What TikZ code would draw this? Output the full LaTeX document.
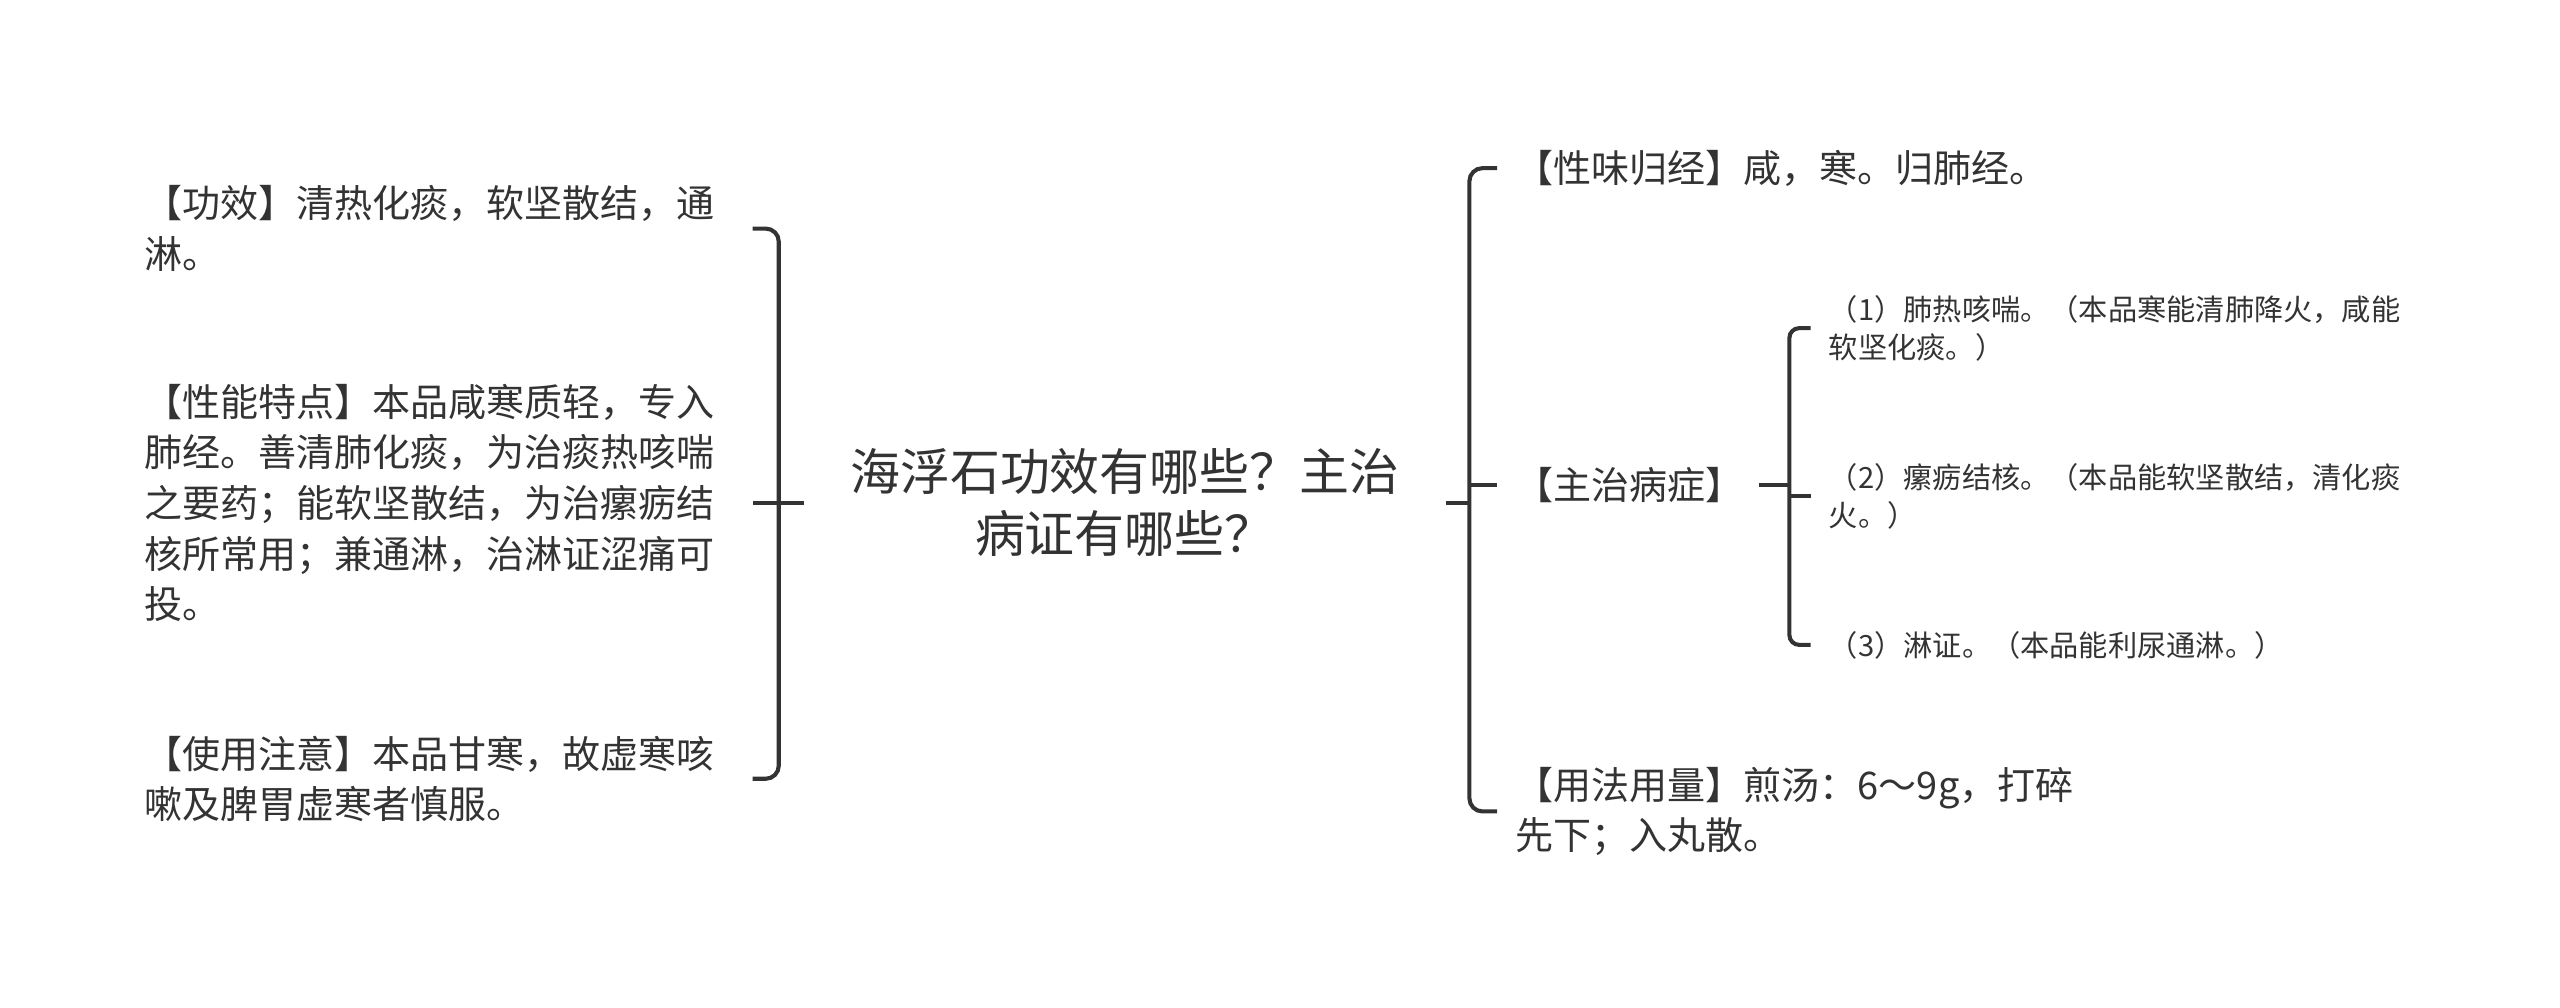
\documentclass[tikz,border=0pt]{standalone}
\usepackage{fontspec}
\setmainfont{Noto Sans CJK SC}
\usepackage{tikz}

\definecolor{ink}{HTML}{333333}

\tikzset{
  leaf/.style={anchor=west, inner sep=0pt, align=left, text=ink,
               font=\fontsize{23.3pt}{31pt}\selectfont},
  subleaf/.style={anchor=west, inner sep=0pt, align=left, text=ink,
               font=\fontsize{17.9pt}{23pt}\selectfont},
  topic/.style={inner xsep=28pt, inner ysep=0pt, align=center, text=ink,
               font=\fontsize{30.6pt}{38pt}\selectfont},
  brace/.style={draw=ink, line width=2.5pt, rounded corners=8pt},
  link/.style={draw=ink, line width=2.5pt}
}

\begin{document}
\begin{tikzpicture}[x=1pt, y=-1pt]
        \useasboundingbox [fill=white] (0,0) rectangle (1568,617);            %

        \node [topic] (root) at (689,308)  {海浮石功效有哪些？主治\\病证有哪些？}; %

        \node [leaf] (gx) at (88,140)      {【功效】清热化痰，软坚散结，通\\淋。};  %
        \node [leaf] (xn) at (88,308)      {【性能特点】本品咸寒质轻，专入\\肺经。善清肺化痰，为治痰热咳喘\\之要药；能软坚散结，为治瘰疬结\\核所常用；兼通淋，治淋证涩痛可\\投。};
        \node [leaf] (zy) at (88,477)      {【使用注意】本品甘寒，故虚寒咳\\嗽及脾胃虚寒者慎服。};

        \node [leaf] (xw) at (928,103)     {【性味归经】咸，寒。归肺经。};         %
        \node [leaf] (zz) at (928,297)     {【主治病症】};                       %
        \node [leaf] (yf) at (928,497)     {【用法用量】煎汤：6～9g，打碎\\先下；入丸散。};

        \node [subleaf] (s1) at (1120,201) {（1）肺热咳喘。（本品寒能清肺降火，咸能\\软坚化痰。）};
        \node [subleaf] (s2) at (1120,304) {（2）瘰疬结核。（本品能软坚散结，清化痰\\火。）};
        \node [subleaf] (s3) at (1120,395) {（3）淋证。（本品能利尿通淋。）};    %

        % bracket, left
        \coordinate (lh) at (461,0);                                          %
        \coordinate (lv) at (477,0);                                          %
        \draw [brace] (gx.east -| lh) -- (gx.east -| lv) -- (zy.east -| lv) -- (zy.east -| lh);
        \draw [link]  (root.west) -- (root.west -| lh);                       %

        % bracket, right
        \coordinate (rv) at (900,0);                                          %
        \coordinate (rh) at (917,0);                                          %
        \draw [brace] (xw.west -| rh) -- (xw.west -| rv) -- (yf.west -| rv) -- (yf.west -| rh);
        \draw [link]  (root.east) -- (root.east -| rv);                       %
        \draw [link]  (zz.west -| rv) -- (zz.west -| rh);                     %

        % bracket, sub
        \coordinate (sv) at (1096,0);                                         %
        \coordinate (sh) at (1109,0);                                         %
        \draw [brace, rounded corners=6pt] (s1.west -| sh) -- (s1.west -| sv) -- (s3.west -| sv) -- (s3.west -| sh);
        \draw [link]  ([xshift=9pt]zz.east) -- (zz.east -| sv);               %
        \draw [link]  (s2.west -| sv) -- (s2.west -| sh);                     %
\end{tikzpicture}
\end{document}
